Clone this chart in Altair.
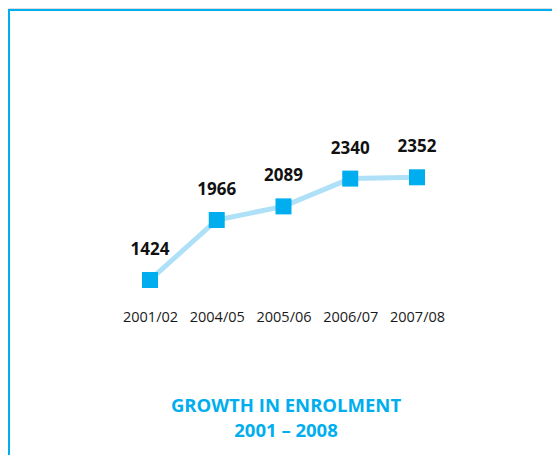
import altair as alt
import pandas as pd

years = ["2001/02", "2004/05", "2005/06", "2006/07", "2007/08"]
enrolment = [1424, 1966, 2089, 2340, 2352]
title_lines = ["GROWTH IN ENROLMENT", "2001 – 2008"]

df = pd.DataFrame({"year": years, "enrolment": enrolment})

FONT = "Open Sans"
BLUE = "#00AEEF"
LIGHT = "#AEE1F7"

W, H = 544, 447

x = alt.X("year:O", sort=years,
          scale=alt.Scale(type="point", range=[142, 409], padding=0),
          axis=alt.Axis(title=None, domain=False, ticks=False, labelAngle=0,
                        labelFont=FONT, labelFontSize=14.5, labelColor="#1a1a1a",
                        labelPadding=0, offset=302 - H))
y = alt.Y("enrolment:Q",
          scale=alt.Scale(domain=[1000, 2500], range=[318.9, 152.9], zero=False, nice=False),
          axis=None)

base = alt.Chart(df).encode(x=x, y=y)

line = base.mark_line(color=LIGHT, strokeWidth=5)
points = base.mark_point(shape="square", filled=True, size=256, color=BLUE, opacity=1)
labels = base.mark_text(font=FONT, fontSize=17, fontWeight="bold", color="#111111",
                        dy=-30, baseline="middle").encode(text="enrolment:Q")

frame_left = alt.Chart(df).mark_rule(color=BLUE, strokeWidth=2).encode(
    x=alt.value(1), y=alt.value(1), y2=alt.value(H))
frame_top = alt.Chart(df).mark_rule(color=BLUE, strokeWidth=2).encode(
    x=alt.value(0), x2=alt.value(W), y=alt.value(2))

chart = alt.layer(frame_left, frame_top, line, points, labels).properties(
    width=W, height=H,
    autosize=alt.AutoSizeParams(type="none"),
    padding=0,
    title=alt.TitleParams(title_lines, orient="bottom", frame="group", offset=-59,
                          anchor="middle", dx=6, font=FONT, fontSize=18.5,
                          fontWeight="bold", color=BLUE, lineHeight=25),
).configure_view(stroke=None).configure(background="white")

chart.save("out.html", embed_options={"renderer": "svg", "actions": False})
